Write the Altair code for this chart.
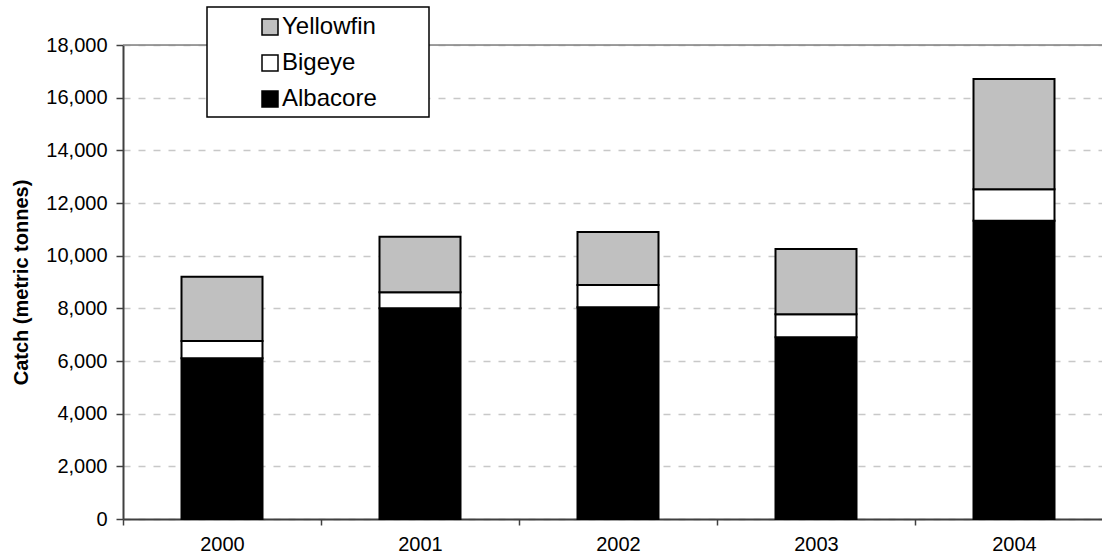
import altair as alt
import pandas as pd

years = ["2000", "2001", "2002", "2003", "2004"]
albacore = [6100, 8000, 8040, 6900, 11330]
bigeye = [660, 610, 850, 880, 1190]
yellowfin = [2440, 2110, 2010, 2470, 4190]
species = ["Yellowfin", "Bigeye", "Albacore"]
colors = ["#c0c0c0", "#ffffff", "#000000"]
y_ticks = list(range(0, 18001, 2000))

rows = []
for i, yr in enumerate(years):
    rows.append({"year": yr, "species": "Albacore", "catch": albacore[i], "ord": 0})
    rows.append({"year": yr, "species": "Bigeye", "catch": bigeye[i], "ord": 1})
    rows.append({"year": yr, "species": "Yellowfin", "catch": yellowfin[i], "ord": 2})
df = pd.DataFrame(rows)

FONT = "Liberation Sans"

y_axis = alt.Axis(title="Catch (metric tonnes)", values=y_ticks, format=",.0f",
                  labelFontSize=20, labelFont=FONT, labelColor="black",
                  labelPadding=9, tickSize=7, tickColor="#404040", tickWidth=1.5,
                  domainColor="#404040", domainWidth=2,
                  grid=True, gridColor="#c8c8c8", gridDash=[7, 8], gridWidth=1.5,
                  titleFontSize=20, titleFont=FONT, titleFontWeight="bold",
                  titleColor="black", titlePadding=14)

bars = alt.Chart(df).mark_bar(size=81, stroke="black", strokeWidth=2).encode(
    x=alt.X("year:O",
            scale=alt.Scale(range=[0, 990], paddingInner=0, paddingOuter=0),
            axis=alt.Axis(title=None, labelAngle=0, tickBand="extent", labelFontSize=20,
                          labelFont=FONT, labelColor="black", labelPadding=9,
                          tickSize=6, tickColor="#404040", tickWidth=1.5,
                          domainColor="#404040", domainWidth=2, grid=False)),
    y=alt.Y("catch:Q", stack="zero",
            scale=alt.Scale(domain=[0, 18000], nice=False),
            axis=y_axis),
    color=alt.Color("species:N",
                    scale=alt.Scale(domain=species, range=colors),
                    legend=alt.Legend(title=None, orient="none", legendX=84, legendY=-37,
                                      padding=7,
                                      symbolType="square", symbolSize=256,
                                      symbolStrokeColor="black", symbolStrokeWidth=1.5,
                                      symbolOffset=44, labelFontSize=24, labelFont=FONT,
                                      labelColor="black", rowPadding=12, labelOffset=0)),
    order=alt.Order("ord:Q", sort="ascending"),
)

top = alt.Chart(pd.DataFrame({"v": [18000]})).mark_rule(color="#808080", strokeWidth=1.5).encode(
    y=alt.Y("v:Q", axis=y_axis)
)

legend_box = alt.Chart(pd.DataFrame({"k": [0]})).mark_rect(
    fill="white", stroke="black", strokeWidth=1.5
).encode(
    x=alt.value(84), x2=alt.value(306), y=alt.value(-38), y2=alt.value(72)
)

chart = alt.layer(bars, top, legend_box).properties(
    width=979, height=474,
    autosize=alt.AutoSizeParams(type="none"),
    padding={"left": 123, "top": 45, "right": 0, "bottom": 41},
).configure_view(stroke=None).configure(background="white")

chart.save("out.html", embed_options={"renderer": "svg", "actions": False})
